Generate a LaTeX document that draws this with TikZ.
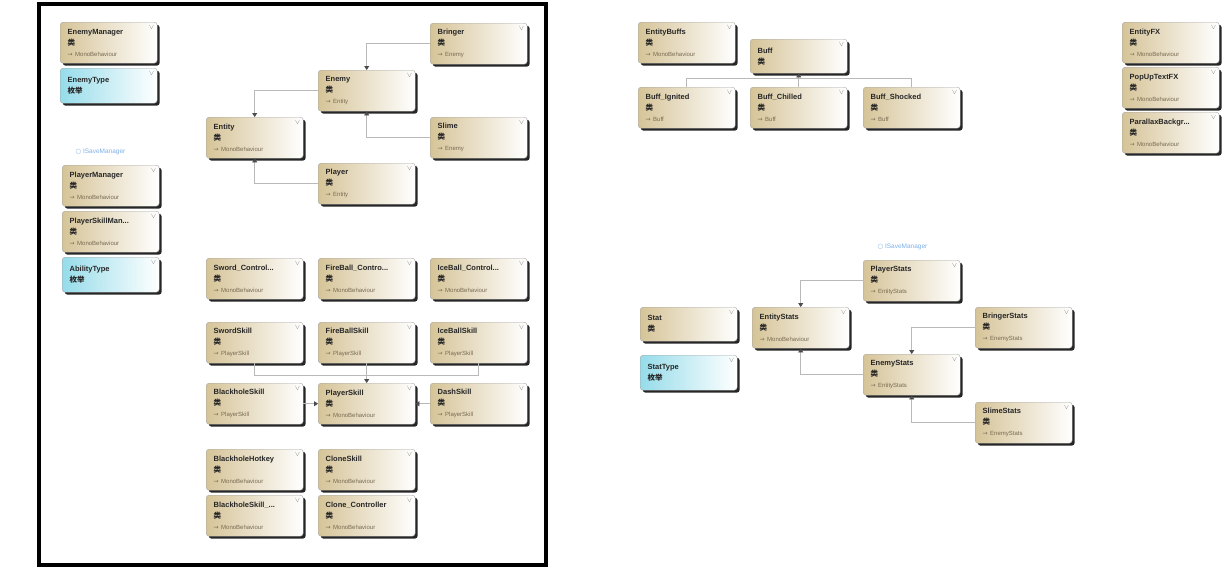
\documentclass[tikz,border=0pt]{standalone}
\usepackage{fontspec}
\setmainfont{Liberation Sans}
\newfontfamily\cjk{Noto Sans CJK SC}
\newfontfamily\symfont{DejaVu Sans}
\usetikzlibrary{arrows.meta,shadows}

\definecolor{boxtan}{RGB}{214,196,152}
\definecolor{enumcyan}{RGB}{150,220,234}
\definecolor{basetext}{RGB}{120,106,80}
\definecolor{linkgray}{RGB}{185,185,185}
\definecolor{ifblue}{RGB}{125,175,230}

\newcommand{\classtext}[2]{\textbf{#1}\\{\cjk\bfseries 类}\\{\fontsize{6}{11}\selectfont\color{basetext}{\symfont →} #2}}
\newcommand{\plaintext}[1]{\textbf{#1}\\{\cjk\bfseries 类}}
\newcommand{\enumtext}[1]{\textbf{#1}\\{\cjk\bfseries 枚举}}

\tikzset{
    classbox/.style={rounded corners=3pt, draw=black!35, left color=boxtan, right color=white,
        minimum width=97pt, minimum height=41pt, text width=82pt, align=left,
        anchor=north west, font=\fontsize{7.5}{11}\selectfont, text=black!85,
        drop shadow={shadow xshift=2.5pt, shadow yshift=-2.5pt, fill=black!85, opacity=1},
        label={[anchor=north east, inner sep=3pt, text=black!50, font=\scriptsize]north east:$\vee$}},
    shortbox/.style={classbox, minimum height=34pt},
    enumbox/.style={classbox, minimum height=35pt, left color=enumcyan},
    iface/.style={anchor=west, text=ifblue, font=\fontsize{6.5}{8}\selectfont},
    inh/.style={draw=linkgray, line width=0.8pt, -{Triangle[length=4pt,width=5pt,color=black!70]}},
    link/.style={draw=linkgray, line width=0.8pt}
}

\begin{document}
\begin{tikzpicture}[x=1pt, y=-1pt]
    \useasboundingbox (0,0) rectangle (1230,573);

    % Draw frame round the left part
    \draw[line width=4pt] (39,4) rectangle (546,565);

    % Draw managers and enums
    \node[classbox] (enemymgr) at (60,22) {\classtext{EnemyManager}{MonoBehaviour}};
    \node[enumbox] (enemytype) at (60,68) {\enumtext{EnemyType}};
    \node[iface] (isavepm) at (72,152) {{\symfont ○} ISaveManager};
    \node[classbox] (playermgr) at (62,165) {\classtext{PlayerManager}{MonoBehaviour}};
    \node[classbox] (skillmgr) at (62,211) {\classtext{PlayerSkillMan...}{MonoBehaviour}};
    \node[enumbox] (abilitytype) at (62,257) {\enumtext{AbilityType}};

    % Draw entities
    \node[classbox] (bringer) at (430,23) {\classtext{Bringer}{Enemy}};
    \node[classbox] (enemy) at (318,70) {\classtext{Enemy}{Entity}};
    \node[classbox] (entity) at (206,117) {\classtext{Entity}{MonoBehaviour}};
    \node[classbox] (slime) at (430,117) {\classtext{Slime}{Enemy}};
    \node[classbox] (player) at (318,163) {\classtext{Player}{Entity}};

    % Draw skills
    \node[classbox] (swordctrl) at (206,258) {\classtext{Sword\_Control...}{MonoBehaviour}};
    \node[classbox] (firectrl) at (318,258) {\classtext{FireBall\_Contro...}{MonoBehaviour}};
    \node[classbox] (icectrl) at (430,258) {\classtext{IceBall\_Control...}{MonoBehaviour}};
    \node[classbox] (sword) at (206,322) {\classtext{SwordSkill}{PlayerSkill}};
    \node[classbox] (fire) at (318,322) {\classtext{FireBallSkill}{PlayerSkill}};
    \node[classbox] (ice) at (430,322) {\classtext{IceBallSkill}{PlayerSkill}};
    \node[classbox] (blackhole) at (206,383) {\classtext{BlackholeSkill}{PlayerSkill}};
    \node[classbox] (playerskill) at (318,383) {\classtext{PlayerSkill}{MonoBehaviour}};
    \node[classbox] (dash) at (430,383) {\classtext{DashSkill}{PlayerSkill}};
    \node[classbox] (bhhotkey) at (206,449) {\classtext{BlackholeHotkey}{MonoBehaviour}};
    \node[classbox] (clone) at (318,449) {\classtext{CloneSkill}{MonoBehaviour}};
    \node[classbox] (bhctrl) at (206,495) {\classtext{BlackholeSkill\_...}{MonoBehaviour}};
    \node[classbox] (clonectrl) at (318,495) {\classtext{Clone\_Controller}{MonoBehaviour}};

    % Draw buffs
    \node[classbox] (entitybuffs) at (638,22) {\classtext{EntityBuffs}{MonoBehaviour}};
    \node[shortbox] (buff) at (750,39) {\plaintext{Buff}};
    \node[classbox] (ignited) at (638,87) {\classtext{Buff\_Ignited}{Buff}};
    \node[classbox] (chilled) at (750,87) {\classtext{Buff\_Chilled}{Buff}};
    \node[classbox] (shocked) at (863,87) {\classtext{Buff\_Shocked}{Buff}};

    % Draw effects
    \node[classbox] (entityfx) at (1122,22) {\classtext{EntityFX}{MonoBehaviour}};
    \node[classbox] (popupfx) at (1122,67) {\classtext{PopUpTextFX}{MonoBehaviour}};
    \node[classbox] (parallax) at (1122,112) {\classtext{ParallaxBackgr...}{MonoBehaviour}};

    % Draw stats
    \node[iface] (isaveps) at (874,247) {{\symfont ○} ISaveManager};
    \node[classbox] (playerstats) at (863,260) {\classtext{PlayerStats}{EntityStats}};
    \node[shortbox] (stat) at (640,307) {\plaintext{Stat}};
    \node[enumbox] (stattype) at (640,355) {\enumtext{StatType}};
    \node[classbox] (entitystats) at (752,307) {\classtext{EntityStats}{MonoBehaviour}};
    \node[classbox] (bringerstats) at (975,307) {\classtext{BringerStats}{EnemyStats}};
    \node[classbox] (enemystats) at (863,354) {\classtext{EnemyStats}{EntityStats}};
    \node[classbox] (slimestats) at (975,402) {\classtext{SlimeStats}{EnemyStats}};

    % Draw inheritance lines
    \draw[inh] (bringer.west) -| (enemy.north);
    \draw[inh] (slime.west) -| (enemy.south);
    \draw[inh] (enemy.west) -| (entity.north);
    \draw[inh] (player.west) -| (entity.south);

    \coordinate (skillbus) at ([yshift=8pt]playerskill.north);
    \draw[link] (sword.south) |- (skillbus);
    \draw[link] (ice.south) |- (skillbus);
    \draw[inh] (fire.south) -- (playerskill.north);
    \draw[inh] (blackhole.east) -- (playerskill.west);
    \draw[inh] (dash.west) -- (playerskill.east);

    \coordinate (buffbus) at ([yshift=-5pt]buff.south);
    \draw[link] (ignited.north) |- (buffbus);
    \draw[link] (shocked.north) |- (buffbus);
    \draw[inh] (chilled.north) -- (buff.south);

    \draw[inh] (playerstats.west) -| (entitystats.north);
    \draw[inh] (enemystats.west) -| (entitystats.south);
    \draw[inh] (bringerstats.west) -| (enemystats.north);
    \draw[inh] (slimestats.west) -| (enemystats.south);
\end{tikzpicture}
\end{document}
